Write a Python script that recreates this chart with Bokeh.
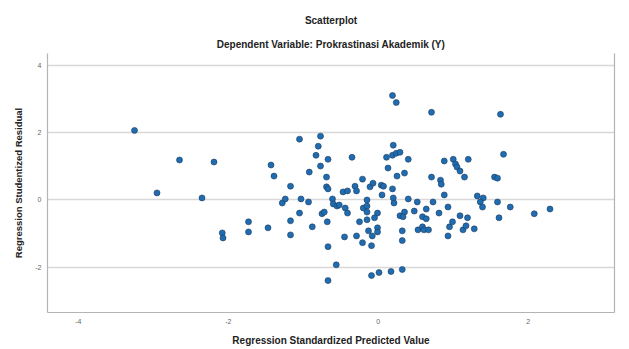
from bokeh.plotting import figure
from bokeh.models import Range1d, FixedTicker, LinearAxis, Title
from bokeh.embed import file_html
from bokeh.resources import INLINE

# Regression Standardized Predicted Value
pred = [-3.25, -2.95, -2.65, -2.35, -2.19, -2.08, -2.07, -1.73, -1.73, -1.47,
        -1.43, -1.39, -1.17, -1.28, -1.24, -1.17, -1.17, -1.05, -1.03, -0.93,
        -1.05, -0.92, -0.88, -0.83, -0.80, -0.77, -0.77, -0.75, -0.72, -0.69,
        -0.69, -0.67, -0.67, -0.68, -0.67, -0.56, -0.67, -0.35, -0.61, -0.60,
        -0.55, -0.52, -0.47, -0.41, -0.44, -0.41, -0.45, -0.31, -0.29, -0.25,
        -0.29, -0.21, -0.21, -0.20, -0.15, -0.15, -0.15, -0.15, -0.11, -0.07,
        -0.09, -0.13, -0.08, -0.01, -0.05, -0.01, -0.01, 0.04, 0.07, 0.05,
        0.11, 0.13, 0.20, 0.19, 0.24, 0.29, 0.40, 0.19, 0.20, 0.21,
        0.19, 0.24, 0.25, 0.35, 0.32, 0.29, 0.35, 0.33, 0.32, 0.40,
        0.48, 0.52, 0.53, 0.59, 0.61, 0.67, 0.59, 0.64, 0.64, 0.71,
        0.71, 0.73, 0.81, 0.83, 0.84, 0.88, 0.88, 0.93, 0.93, 0.95,
        0.99, 1.00, 1.03, 1.05, 1.09, 1.15, 1.20, 1.09, 1.19, 1.13,
        1.17, 1.28, 1.32, 1.40, 1.36, 1.39, 1.55, 1.59, 1.59, 1.61,
        1.63, 1.67, 1.76, 2.08, 2.29, -0.09, 0.01, 0.17, 0.32]

# Regression Studentized Residual
resid = [2.07, 0.21, 1.19, 0.06, 1.13, -0.98, -1.13, -0.65, -0.95, -0.83,
         1.04, 0.71, 0.41, -0.09, 0.03, -0.62, -1.04, 1.81, 0.03, -0.06,
         -0.39, 0.83, -0.80, 1.33, 1.60, 1.90, 1.01, -0.41, -0.36, 0.68,
         0.39, 0.33, 1.21, -0.65, -1.39, -1.93, -2.40, 1.27, 0.03, -0.12,
         -0.18, -0.15, 0.24, 0.27, -0.24, -0.39, -1.10, 0.41, 0.27, -0.65,
         -1.07, 0.62, -1.27, -0.24, 0.00, -0.18, -0.36, -0.59, 0.39, 0.50,
         -1.36, -0.92, -1.07, -0.39, -0.53, -0.83, -0.95, 0.44, 0.41, 0.15,
         1.27, 0.95, 1.63, 1.33, 1.39, 1.42, 1.21, 0.33, 0.06, -0.09,
         3.11, 2.90, 0.71, 0.80, -0.92, -0.47, -0.36, -0.50, -1.21, 0.03,
         -0.33, -0.06, -0.89, -0.80, -0.89, -0.89, -0.50, -0.56, -0.27, 0.68,
         2.61, -0.06, -0.39, 0.59, 0.47, 1.16, 0.15, -0.21, -1.07, -0.80,
         -0.65, 1.21, 1.07, 0.98, 0.86, 0.68, 1.21, -0.47, -0.53, -0.89,
         -0.77, -0.86, 0.12, 0.06, -0.06, -0.21, 0.68, 0.65, -0.06, -0.53,
         2.55, 1.36, -0.21, -0.41, -0.27, -2.25, -2.16, -2.13, -2.07]

x_ticks = [-4, -2, 0, 2]
y_ticks = [-2, 0, 2, 4]

FONT = "Liberation Sans"
GRID = "#d8d8d8"
FRAME = "#b4b4b4"

p = figure(width=625, height=348, output_backend="svg", toolbar_location=None,
           title=None, x_range=Range1d(-4.41, 3.15), y_range=Range1d(-3.35, 4.36),
           min_border_left=47, min_border_right=11, min_border_top=53,
           min_border_bottom=35)
p.outline_line_color = None
p.background_fill_color = "white"

p.scatter(pred, resid, size=6.0, fill_color="#1f6cb0", line_color="#1c3d60",
          line_width=0.6)

p.xgrid.grid_line_color = None
p.ygrid.grid_line_color = GRID
p.ygrid.grid_line_width = 1.5

for ax, ticks in ((p.xaxis[0], x_ticks), (p.yaxis[0], y_ticks)):
    ax.ticker = FixedTicker(ticks=ticks)
    ax.major_label_overrides = {t: str(t) for t in ticks}
    ax.major_tick_out = 0
    ax.major_tick_in = 0
    ax.minor_tick_out = 0
    ax.minor_tick_in = 0
    ax.axis_line_color = FRAME
    ax.axis_line_width = 1.2
    ax.major_label_text_font = FONT
    ax.major_label_text_font_size = "7px"
    ax.major_label_text_color = "#666666"
    ax.axis_label_text_font = FONT
    ax.axis_label_text_font_style = "bold"
    ax.axis_label_text_color = "#222222"

p.xaxis.axis_label = "Regression Standardized Predicted Value"
p.xaxis.axis_label_text_font_size = "10px"
p.xaxis.major_label_standoff = 6
p.xaxis.axis_label_standoff = 8

p.yaxis.axis_label = "Regression Studentized Residual"
p.yaxis.axis_label_text_font_size = "9.5px"
p.yaxis.major_label_standoff = 6
p.yaxis.axis_label_standoff = 8

right = LinearAxis(ticker=FixedTicker(ticks=[]), axis_line_color=FRAME,
                   axis_line_width=1.2, major_tick_out=0, major_tick_in=0,
                   minor_tick_out=0, minor_tick_in=0,
                   major_label_text_font_size="0px")
p.add_layout(right, "right")

p.add_layout(Title(text="Dependent Variable: Prokrastinasi Akademik (Y)",
                   align="center", offset=-10, text_font=FONT,
                   text_font_size="10px", text_font_style="bold",
                   text_color="#222222", standoff=7), "above")
p.add_layout(Title(text="Scatterplot", align="center", offset=-10,
                   text_font=FONT, text_font_size="10px",
                   text_font_style="bold", text_color="#222222",
                   standoff=15), "above")

open("out.html", "w").write(file_html(p, INLINE))
